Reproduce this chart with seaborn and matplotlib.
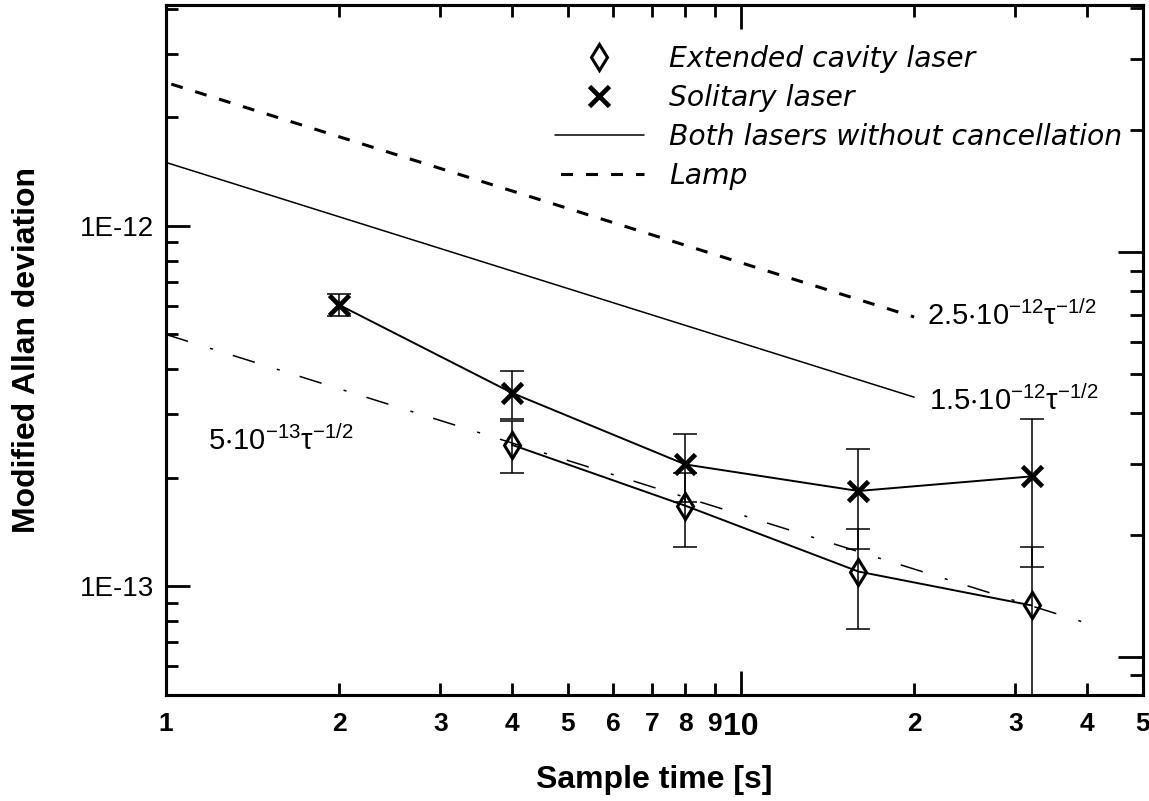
import numpy as np
import pandas as pd
import matplotlib
matplotlib.use('Agg')
import matplotlib.pyplot as plt
import seaborn as sns
from matplotlib.ticker import FixedLocator, FixedFormatter, NullFormatter, LogLocator
from matplotlib.font_manager import FontProperties

# ---------------- data ----------------
tau_sol = [2, 4, 8, 16, 32]
adev_sol = [6.04e-13, 3.44e-13, 2.18e-13, 1.84e-13, 2.02e-13]
err_sol = [0.43e-13, 0.52e-13, 0.47e-13, 0.57e-13, 0.89e-13]

tau_ext = [4, 8, 16, 32]
adev_ext = [2.47e-13, 1.675e-13, 1.10e-13, 0.886e-13]
err_ext = [0.40e-13, 0.39e-13, 0.34e-13, 0.40e-13]

# reference power-law lines (end points)
lamp_tau = [1, 20]
lamp_adev = [2.5e-12, 5.59e-13]
both_tau = [1, 20]
both_adev = [1.5e-12, 3.35e-13]
fit_tau = [1, 40]
fit_adev = [5.0e-13, 7.9e-14]

legend_labels = ['Extended cavity laser', 'Solitary laser',
                 'Both lasers without cancellation', 'Lamp']
annot_texts = [r'$\mathregular{2.5{\cdot}10^{-12}\tau^{-1/2}}$',
               r'$\mathregular{1.5{\cdot}10^{-12}\tau^{-1/2}}$',
               r'$\mathregular{5{\cdot}10^{-13}\tau^{-1/2}}$']

x_major_ticks = [1, 10]
x_major_labels = ['1', '10']
x_minor_ticks = [2, 3, 4, 5, 6, 7, 8, 9, 20, 30, 40, 50]
x_minor_labels = ['2', '3', '4', '5', '6', '7', '8', '9', '2', '3', '4', '5']
y_major_ticks = [1e-13, 1e-12]
y_major_labels = ['1E-13', '1E-12']

# ---------------- style ----------------
sns.set_theme(style='ticks')
plt.rcParams['font.family'] = ['Liberation Sans', 'DejaVu Sans']
plt.rcParams['mathtext.fontset'] = 'custom'
plt.rcParams['mathtext.rm'] = 'Liberation Sans'
plt.rcParams['mathtext.it'] = 'Liberation Sans:italic'
plt.rcParams['lines.scale_dashes'] = False
plt.rcParams['axes.grid'] = False
plt.rcParams['text.color'] = 'black'
plt.rcParams['axes.labelcolor'] = 'black'
plt.rcParams['xtick.color'] = 'black'
plt.rcParams['ytick.color'] = 'black'
plt.rcParams['axes.edgecolor'] = 'black'

W, H = 1149, 801
fig = plt.figure(figsize=(W / 100, H / 100), dpi=100)
ax = fig.add_axes([166 / W, 1 - 695 / H, 977 / W, 690 / H])
ax.set_xscale('log')
ax.set_yscale('log')
ax.set_xlim(1, 50)
ax.set_ylim(5.0e-14, 4.1e-12)

# reference lines
sns.lineplot(x=lamp_tau, y=lamp_adev, ax=ax, color='black', lw=2.2,
             linestyle=(14, (8.6, 9.4)), sort=False)
lamp_line = ax.lines[-1]
sns.lineplot(x=both_tau, y=both_adev, ax=ax, color='black', lw=1.1, sort=False)
both_line = ax.lines[-1]
sns.lineplot(x=fit_tau, y=fit_adev, ax=ax, color='black', lw=1.1,
             linestyle=(0, (16.6, 16.6, 2.2, 15.0)), sort=False)

# data connecting lines
sns.lineplot(x=tau_sol, y=adev_sol, ax=ax, color='black', lw=1.4, sort=False)
sns.lineplot(x=tau_ext, y=adev_ext, ax=ax, color='black', lw=1.4, sort=False)

# error bars
ax.errorbar(tau_sol, adev_sol, yerr=err_sol, fmt='none', ecolor='black',
            elinewidth=1.1, capsize=8.3, capthick=1.1)
ax.errorbar(tau_ext, adev_ext, yerr=err_ext, fmt='none', ecolor='black',
            elinewidth=1.1, capsize=8.3, capthick=1.1)

# markers
ext_mk, = ax.plot(tau_ext, adev_ext, linestyle='none', marker='d', ms=13.5,
                  mfc='none', mec='black', mew=2.2)
sol_mk, = ax.plot(tau_sol, adev_sol, linestyle='none', marker='x', ms=15,
                  mec='black', mew=3.4)

# ---------------- ticks ----------------
ax.xaxis.set_major_locator(FixedLocator(x_major_ticks))
ax.xaxis.set_major_formatter(FixedFormatter(x_major_labels))
ax.xaxis.set_minor_locator(FixedLocator(x_minor_ticks))
ax.xaxis.set_minor_formatter(FixedFormatter(x_minor_labels))
ax.yaxis.set_major_locator(FixedLocator(y_major_ticks))
ax.yaxis.set_major_formatter(FixedFormatter(y_major_labels))
ax.yaxis.set_minor_locator(LogLocator(base=10, subs=np.arange(2, 10)))
ax.yaxis.set_minor_formatter(NullFormatter())

ax.tick_params(which='both', direction='in', top=True, right=False,
               width=2.0, color='black')
ax.tick_params(which='major', length=17)
ax.tick_params(which='minor', length=8.6)
ax.tick_params(axis='x', which='both', pad=12.5, labelsize=19,
               labelcolor='black')
ax.tick_params(axis='y', which='both', pad=8.6, labelsize=20,
               labelcolor='black')
for tk in ax.xaxis.get_minor_ticks():
    tk.label1.set_fontweight('bold')
for tk in ax.xaxis.get_major_ticks():
    tk.label1.set_fontweight('bold')
ax.xaxis.get_major_ticks()[1].label1.set_fontsize(23)

# right-hand axis ticks (as in the scan, slightly different spacing)
ax2 = ax.twinx()
ax2.set_yscale('log')
ax2.set_ylim(8.05e-14, 4.08e-12)
ax2.yaxis.set_major_locator(FixedLocator(y_major_ticks))
ax2.yaxis.set_minor_locator(LogLocator(base=10, subs=np.arange(2, 10)))
ax2.yaxis.set_major_formatter(NullFormatter())
ax2.yaxis.set_minor_formatter(NullFormatter())
ax2.tick_params(which='both', direction='in', width=2.0, color='black',
                labelright=False)
ax2.tick_params(which='major', length=18)
ax2.tick_params(which='minor', length=9.5)

for a in (ax, ax2):
    for s in a.spines.values():
        s.set_linewidth(2.2)
        s.set_color('black')

# ---------------- labels ----------------
ax.set_xlabel('Sample time [s]', fontsize=23, fontweight='bold', color='black')
ax.xaxis.set_label_coords(0.5, (695 - 780) / 690)
ax.xaxis.label.set_va('center')
ax.set_ylabel('Modified Allan deviation', fontsize=23, fontweight='bold',
              color='black')
ax.yaxis.set_label_coords((27 - 166) / 977, 0.5)
ax.yaxis.label.set_va('center')

# annotations
fig.text(927 / W, 1 - 325 / H, annot_texts[0], fontsize=21, ha='left',
         va='baseline', color='black')
fig.text(929 / W, 1 - 410 / H, annot_texts[1], fontsize=21, ha='left',
         va='baseline', color='black')
fig.text(208 / W, 1 - 450 / H, annot_texts[2], fontsize=21, ha='left',
         va='baseline', color='black')

# legend
leg = ax.legend([ext_mk, sol_mk, both_line, lamp_line], legend_labels,
                loc='upper left', bbox_to_anchor=(555 / W, 1 - 45 / H),
                bbox_transform=fig.transFigure, frameon=False,
                prop=FontProperties(family='DejaVu Sans', style='italic', size=20.3),
                handlelength=3.15, handletextpad=0.9, labelspacing=0.39,
                borderpad=0, borderaxespad=0, numpoints=1, labelcolor='black')
leg.set_zorder(5)

fig.savefig('out.png', dpi=100)
